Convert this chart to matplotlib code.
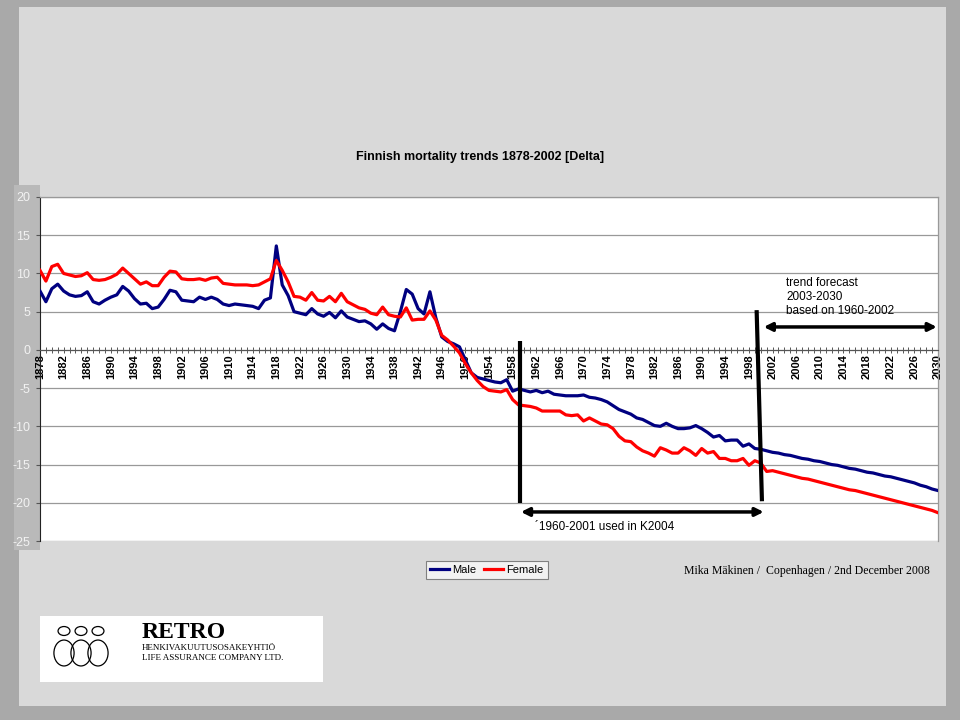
import matplotlib
matplotlib.use("Agg")
import matplotlib.pyplot as plt
from matplotlib.patches import Rectangle, Circle, Ellipse
from matplotlib.ticker import MultipleLocator, FixedLocator

plt.rcParams['font.family'] = ['Liberation Sans', 'DejaVu Sans']
plt.rcParams['axes.unicode_minus'] = False

# years 1878-2030 (observed to 2002, trend forecast 2003-2030)
years = list(range(1878, 2031))

male = [
    7.7, 6.3, 8.0, 8.6, 7.7, 7.2, 7.0, 7.1, 7.6, 6.3,            # 1878-1887
    6.0, 6.5, 6.9, 7.2, 8.3, 7.7, 6.7, 6.0, 6.1, 5.4,            # 1888-1897
    5.6, 6.6, 7.8, 7.6, 6.5, 6.4, 6.3, 6.9, 6.6, 6.9,            # 1898-1907
    6.6, 6.0, 5.8, 6.0, 5.9, 5.8, 5.7, 5.4, 6.5, 6.8,            # 1908-1917
    13.6, 8.5, 7.1, 5.0,                                          # 1918-1921
    4.8, 4.6, 5.4, 4.7, 4.4, 4.9, 4.2, 5.1, 4.3, 4.0,            # 1922-1931
    3.7, 3.8, 3.4, 2.7, 3.4, 2.8, 2.5, 5.0, 7.9, 7.3,            # 1932-1941
    5.4, 4.7, 7.6, 4.2, 1.7, 1.1, 0.8, 0.4, -1.3, -3.0,          # 1942-1951
    -3.6, -3.8, -4.0, -4.2, -4.3, -3.9, -5.4, -5.1, -5.3, -5.5,  # 1952-1961
    -5.3, -5.6, -5.4, -5.8, -5.9, -6.0, -6.0, -6.0, -5.9, -6.2,  # 1962-1971
    -6.3, -6.5, -6.8, -7.3, -7.8, -8.1, -8.4, -8.9, -9.1, -9.5,  # 1972-1981
    -9.9, -10.0, -9.6, -10.0, -10.3, -10.3, -10.2, -9.9, -10.3, -10.8,  # 1982-1991
    -11.4, -11.2, -11.9, -11.8, -11.8, -12.6, -12.3, -12.9, -13.0, -13.2, -13.4,  # 1992-2002
    # forecast 2003-2030
    -13.5, -13.7, -13.8, -14.0, -14.2, -14.3, -14.5, -14.6, -14.8, -15.0,
    -15.1, -15.3, -15.5, -15.6, -15.8, -16.0, -16.1, -16.3, -16.5, -16.6,
    -16.8, -17.0, -17.2, -17.4, -17.7, -17.9, -18.2, -18.4,
]

female = [
    10.4, 9.0, 10.9, 11.2, 10.0, 9.8, 9.6, 9.7, 10.1, 9.2,       # 1878-1887
    9.1, 9.2, 9.5, 9.9, 10.7, 10.0, 9.3, 8.6, 8.9, 8.4,          # 1888-1897
    8.4, 9.5, 10.3, 10.2, 9.3, 9.2, 9.2, 9.3, 9.1, 9.4,          # 1898-1907
    9.5, 8.7, 8.6, 8.5, 8.5, 8.5, 8.4, 8.5, 8.9, 9.3,            # 1908-1917
    11.7, 10.4, 8.9, 7.0,                                         # 1918-1921
    6.9, 6.5, 7.5, 6.5, 6.4, 7.0, 6.3, 7.4, 6.3, 5.9,            # 1922-1931
    5.5, 5.3, 4.8, 4.6, 5.6, 4.6, 4.4, 4.3, 5.5, 3.9,            # 1932-1941
    4.0, 4.0, 5.1, 3.9, 1.9, 1.3, 0.5, -0.4, -1.8, -3.0,         # 1942-1951
    -4.0, -4.8, -5.3, -5.4, -5.5, -5.2, -6.5, -7.2, -7.3, -7.4,  # 1952-1961
    -7.6, -8.0, -8.0, -8.0, -8.0, -8.5, -8.6, -8.5, -9.3, -8.9,  # 1962-1971
    -9.3, -9.7, -9.8, -10.3, -11.3, -11.9, -12.0, -12.7, -13.2, -13.5,  # 1972-1981
    -13.9, -12.8, -13.1, -13.5, -13.5, -12.8, -13.2, -13.8, -12.9, -13.5,  # 1982-1991
    -13.3, -14.2, -14.2, -14.5, -14.5, -14.2, -15.1, -14.5, -14.8, -15.9, -15.8,  # 1992-2002
    # forecast 2003-2030
    -16.0, -16.2, -16.4, -16.6, -16.8, -16.9, -17.1, -17.3, -17.5, -17.7,
    -17.9, -18.1, -18.3, -18.4, -18.6, -18.8, -19.0, -19.2, -19.4, -19.6,
    -19.8, -20.0, -20.2, -20.4, -20.6, -20.8, -21.0, -21.3,
]

y_ticks = [-25, -20, -15, -10, -5, 0, 5, 10, 15, 20]
x_label_years = list(range(1878, 2031, 4))

fig = plt.figure(figsize=(9.6, 7.2), dpi=100)
fig.patch.set_facecolor('#a9a9a9')
# paper-like slide background
fig.patches.append(Rectangle((0.02, 0.02), 0.965, 0.97, transform=fig.transFigure,
                             facecolor='#d9d9d9', edgecolor='none', zorder=-5))
fig.patches.append(Rectangle((14 / 960, 1 - 550 / 720), 26 / 960, 365 / 720,
                             transform=fig.transFigure, facecolor='#b9b9b9',
                             edgecolor='none', zorder=-4))

ax = fig.add_axes([40 / 960, 1 - 541 / 720, 898 / 960, 344 / 720])
ax.set_zorder(2)
ax.set_facecolor('white')

ax.plot(years, male, color='#000080', lw=2.3, label='Male', zorder=3, solid_joinstyle='round')
ax.plot(years, female, color='#ff0000', lw=2.3, label='Female', zorder=3, solid_joinstyle='round')

ax.set_xlim(1878, 2030)
ax.set_ylim(-25, 20)
ax.set_yticks(y_ticks)
ax.yaxis.grid(True, color='#999999', lw=0.9)
ax.set_axisbelow(True)

ax.spines['bottom'].set_position(('data', 0))
ax.spines['bottom'].set_color('#555555')
ax.spines['left'].set_color('#222222')
for s in ['top', 'right']:
    ax.spines[s].set_color('#999999')
    ax.spines[s].set_linewidth(0.9)

ax.xaxis.set_major_locator(FixedLocator(x_label_years))
ax.xaxis.set_minor_locator(MultipleLocator(1))
ax.set_xticklabels([str(y) for y in x_label_years], rotation=90, fontsize=8,
                   fontweight='bold', va='top')
ax.tick_params(axis='x', which='both', direction='inout', length=4, width=0.7,
               color='#555555', pad=1)
ax.tick_params(axis='y', length=3, color='#555555', labelsize=9, labelcolor='#f2f2f2', pad=4)

# annotations: period markers and arrows
ax.plot([1959.2, 1959.2], [1.2, -20.0], color='black', lw=3, solid_capstyle='butt', zorder=4)
ax.plot([1999.3, 2000.2], [5.2, -19.8], color='black', lw=3, solid_capstyle='butt', zorder=4)
ax.annotate('', xy=(1959.4, -21.2), xytext=(2000.5, -21.2),
            arrowprops=dict(arrowstyle='<|-|>', color='black', lw=2.5,
                            mutation_scale=12, shrinkA=0, shrinkB=0), zorder=4)
ax.annotate('', xy=(2000.5, 3.0), xytext=(2029.8, 3.0),
            arrowprops=dict(arrowstyle='<|-|>', color='black', lw=2.5,
                            mutation_scale=12, shrinkA=0, shrinkB=0), zorder=4)
ax.text(1961.8, -23.2, '\u00b41960-2001 used in K2004', fontsize=8.5, va='center', ha='left')
ax.text(2004.3, 6.9, 'trend forecast\n2003-2030\nbased on 1960-2002', fontsize=8.5,
        va='center', ha='left', linespacing=1.25)

fig.text(0.5, 1 - 157 / 720, 'Finnish mortality trends 1878-2002 [Delta]',
         ha='center', va='center', fontsize=9, fontweight='bold',
         family=['Liberation Sans Narrow', 'Liberation Sans'])

leg = fig.legend(loc='center', bbox_to_anchor=(487 / 960, 1 - 570 / 720), ncol=2,
                 frameon=True, fancybox=False, edgecolor='#808080',
                 facecolor='#f2f2f2', framealpha=1, handlelength=1.7,
                 handletextpad=0.3, columnspacing=0.7, borderpad=0.35,
                 prop={'family': ['Liberation Sans Narrow', 'Liberation Sans'], 'size': 8})
leg.get_frame().set_linewidth(0.8)

fig.text(930 / 960, 1 - 571 / 720, 'Mika M\u00e4kinen /  Copenhagen / 2nd December 2008',
         ha='right', va='center', fontsize=8.5, family=['Liberation Serif', 'DejaVu Serif'])

# company logo block
fig.patches.append(Rectangle((40 / 960, 1 - 682 / 720), 283 / 960, 66 / 720,
                             transform=fig.transFigure, facecolor='white',
                             edgecolor='none', zorder=1))
for cx in [64, 81, 98]:
    fig.patches.append(Circle((cx / 960, 1 - 631 / 720), 0.0062, transform=fig.transFigure,
                              fill=False, edgecolor='black', lw=0.9, zorder=2))
    fig.patches.append(Ellipse((cx / 960, 1 - 653 / 720), 0.021, 0.036,
                               transform=fig.transFigure, fill=False,
                               edgecolor='black', lw=0.9, zorder=2))
fig.text(142 / 960, 1 - 632 / 720, 'RETRO', ha='left', va='center', fontsize=17,
         fontweight='bold', family=['Liberation Serif', 'DejaVu Serif'], zorder=3)
fig.text(142 / 960, 1 - 648 / 720, 'HENKIVAKUUTUSOSAKEYHTI\u00d6', ha='left', va='center',
         fontsize=6.5, family=['Liberation Serif', 'DejaVu Serif'], zorder=3)
fig.text(142 / 960, 1 - 658 / 720, 'LIFE ASSURANCE COMPANY LTD.', ha='left', va='center',
         fontsize=6.5, family=['Liberation Serif', 'DejaVu Serif'], zorder=3)

fig.savefig('out.png', dpi=100, facecolor=fig.get_facecolor())
